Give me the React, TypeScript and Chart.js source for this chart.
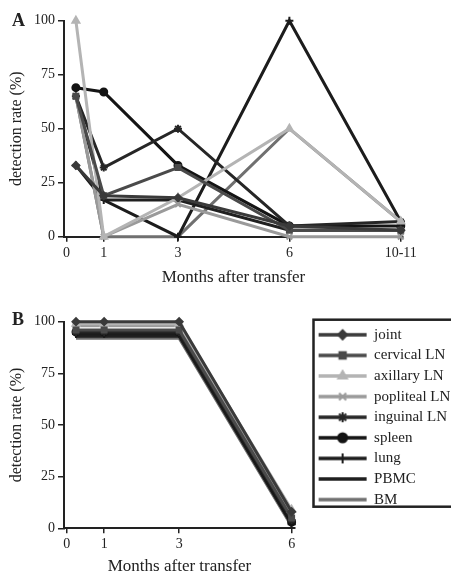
import React, { useEffect, useRef } from 'react';
import { Chart, registerables } from 'chart.js';
import { drawPoint } from 'chart.js/helpers';

Chart.register(...registerables);

// ---------- data ----------
const seriesNames = ['joint', 'cervical LN', 'axillary LN', 'popliteal LN', 'inguinal LN', 'spleen', 'lung', 'PBMC', 'BM'];

const monthsA = [0.25, 1, 3, 6, 9];
const monthsB = [0.25, 1, 3, 6];
const xTickValuesA = [0, 1, 3, 6, 9];
const xTickLabelsA = ['0', '1', '3', '6', '10-11'];
const xTickValuesB = [0, 1, 3, 6];
const xTickLabelsB = ['0', '1', '3', '6'];
const yTickValues = [0, 25, 50, 75, 100];

// Panel A: detection rate (%)
const jointA = [33, 19, 18, 5, 3];
const cervicalA = [65, 19, 32, 3, 3];
const axillaryA = [100, 0, 18, 50, 7];
const poplitealA = [65, 0, 15, 0, 0];
const inguinalA = [65, 32, 50, 5, 7];
const spleenA = [69, 67, 33, 5, 5];
const lungA = [33, 17, 0, 100, 7];
const pbmcA = [65, 17, 17, 3, 3];
const bmA = [65, 0, 0, 50, 7];

// Panel B: detection rate (%)
const jointB = [100, 100, 100, 8];
const cervicalB = [96, 96, 96, 5];
const axillaryB = [99, 99, 99, 9];
const poplitealB = [98, 98, 98, 7];
const inguinalB = [95, 95, 95, 4];
const spleenB = [95, 95, 95, 3];
const lungB = [94, 94, 94, 2];
const pbmcB = [93, 93, 93, 2];
const bmB = [92, 92, 92, 1];

const valuesA = [jointA, cervicalA, axillaryA, poplitealA, inguinalA, spleenA, lungA, pbmcA, bmA];
const valuesB = [jointB, cervicalB, axillaryB, poplitealB, inguinalB, spleenB, lungB, pbmcB, bmB];

// ---------- styles ----------
const colors = ['#3a3a3a', '#4a4a4a', '#b4b4b4', '#9a9a9a', '#262626', '#141414', '#1c1c1c', '#202020', '#707070'];
const pointStyles: any[] = ['rectRot', 'rect', 'triangle', 'crossRot', 'star', 'circle', 'cross', 'dash', false];
const pointRadii = [3.5, 3.5, 4, 4, 4, 3.5, 4, 4, 0];

const FONT = "'Liberation Serif', 'DejaVu Serif', serif";
const INK = '#222';

function makeSample(i: number) {
  const c = document.createElement('canvas');
  c.width = 68;
  c.height = 16;
  const ctx = c.getContext('2d')!;
  ctx.strokeStyle = colors[i];
  ctx.lineWidth = 3.5;
  ctx.beginPath();
  ctx.moveTo(19, 8);
  ctx.lineTo(67, 8);
  ctx.stroke();
  if (pointStyles[i]) {
    ctx.fillStyle = colors[i];
    ctx.strokeStyle = colors[i];
    ctx.lineWidth = 2;
    drawPoint(ctx, { pointStyle: pointStyles[i], radius: pointRadii[i] + 1, rotation: 0, borderWidth: 2 } as any, 43, 8);
  }
  return c;
}

function buildDatasets(months: number[], values: number[][]) {
  return values.map((vals, i) => ({
    label: seriesNames[i],
    data: months.map((m, j) => ({ x: m, y: vals[j] })),
    borderColor: colors[i],
    backgroundColor: colors[i],
    borderWidth: 3,
    pointStyle: pointStyles[i],
    pointRadius: pointRadii[i],
    pointBorderWidth: 2,
    pointBackgroundColor: colors[i],
    pointBorderColor: colors[i],
    tension: 0,
    clip: false as any,
  }));
}

function scales(kind: 'A' | 'B') {
  const tv = kind === 'A' ? xTickValuesA : xTickValuesB;
  const tl = kind === 'A' ? xTickLabelsA : xTickLabelsB;
  return {
    x: {
      type: 'linear' as const,
      min: -0.07,
      max: kind === 'A' ? 9.06 : 6.09,
      afterBuildTicks: (s: any) => {
        s.ticks = tv.map((v) => ({ value: v }));
      },
      ticks: {
        autoSkip: false,
        maxRotation: 0,
        padding: 3,
        color: INK,
        font: { family: FONT, size: 14 },
        callback: (v: any) => {
          const k = tv.indexOf(Number(v));
          return k >= 0 ? tl[k] : '';
        },
      },
      grid: { drawOnChartArea: false, drawTicks: true, tickLength: 5, color: INK, lineWidth: 1.5 },
      border: { display: true, color: INK, width: 2 },
      title: {
        display: true,
        text: 'Months after transfer',
        color: INK,
        font: { family: FONT, size: 17, lineHeight: 1 },
        padding: { top: 0, bottom: kind === 'A' ? 3.5 : 0 },
      },
      afterFit: (s: any) => {
        s.height = kind === 'A' ? 53.3 : 46.7;
      },
    },
    y: {
      min: 0,
      max: 100,
      afterBuildTicks: (s: any) => {
        s.ticks = yTickValues.map((v) => ({ value: v }));
      },
      ticks: { padding: 3, color: INK, font: { family: FONT, size: 14 } },
      grid: { drawOnChartArea: false, drawTicks: true, tickLength: 6, color: INK, lineWidth: 1.5 },
      border: { display: true, color: INK, width: 2 },
      title: {
        display: true,
        text: 'detection rate (%)',
        color: INK,
        font: { family: FONT, size: 16, lineHeight: 1 },
        padding: { top: 8.5, bottom: 0 },
      },
      afterFit: (s: any) => {
        s.width = 64;
      },
    },
  };
}

const legendBorder = {
  id: 'legendBorder',
  afterDraw(chart: any) {
    const lg = chart.legend;
    if (!lg || !lg.options.display) return;
    const ctx = chart.ctx;
    ctx.save();
    ctx.strokeStyle = INK;
    ctx.lineWidth = 2.5;
    ctx.strokeRect(lg.left + 18.5, lg.top - 2, 200, 187);
    ctx.restore();
  },
};

export default function App() {
  const refA = useRef<HTMLCanvasElement>(null);
  const refB = useRef<HTMLCanvasElement>(null);

  useEffect(() => {
    const samples = seriesNames.map((_, i) => makeSample(i));
    const chartA = new Chart(refA.current!, {
      type: 'line',
      data: { datasets: buildDatasets(monthsA, valuesA) as any },
      options: {
        responsive: false,
        animation: false,
        devicePixelRatio: 1,
        layout: { padding: { top: 20.7, left: 0, right: 48, bottom: 0 } },
        plugins: { legend: { display: false }, tooltip: { enabled: false } },
        scales: scales('A') as any,
      },
    });
    const chartB = new Chart(refB.current!, {
      type: 'line',
      data: { datasets: buildDatasets(monthsB, valuesB) as any },
      options: {
        responsive: false,
        animation: false,
        devicePixelRatio: 1,
        layout: { padding: { top: 31.7, left: 0, right: 0, bottom: 0 } },
        plugins: {
          tooltip: { enabled: false },
          legend: {
            display: true,
            position: 'right',
            align: 'start',
            maxWidth: 156,
            labels: {
              usePointStyle: true,
              pointStyleWidth: 66,
              padding: 5.6,
              color: INK,
              font: { family: FONT, size: 15 },
              generateLabels: () =>
                seriesNames.map((name, i) => ({
                  text: name,
                  fillStyle: colors[i],
                  strokeStyle: colors[i],
                  lineWidth: 0,
                  pointStyle: samples[i] as any,
                  hidden: false,
                  datasetIndex: i,
                  fontColor: INK,
                })),
            },
          } as any,
        },
        scales: scales('B') as any,
      },
      plugins: [legendBorder],
    });
    return () => {
      chartA.destroy();
      chartB.destroy();
    };
  }, []);

  const letter: React.CSSProperties = {
    position: 'absolute',
    left: 12,
    fontFamily: FONT,
    fontWeight: 'bold',
    fontSize: 18,
    lineHeight: '18px',
    color: INK,
  };

  return (
    <div style={{ position: 'fixed', left: 0, top: 0, width: 451, height: 575, background: '#fff', overflow: 'hidden' }}>
      <canvas ref={refA} width={451} height={290} style={{ position: 'absolute', left: 0, top: 0 }} />
      <canvas ref={refB} width={451} height={285} style={{ position: 'absolute', left: 0, top: 290 }} />
      <div style={{ ...letter, top: 11 }}>A</div>
      <div style={{ ...letter, top: 310 }}>B</div>
    </div>
  );
}
